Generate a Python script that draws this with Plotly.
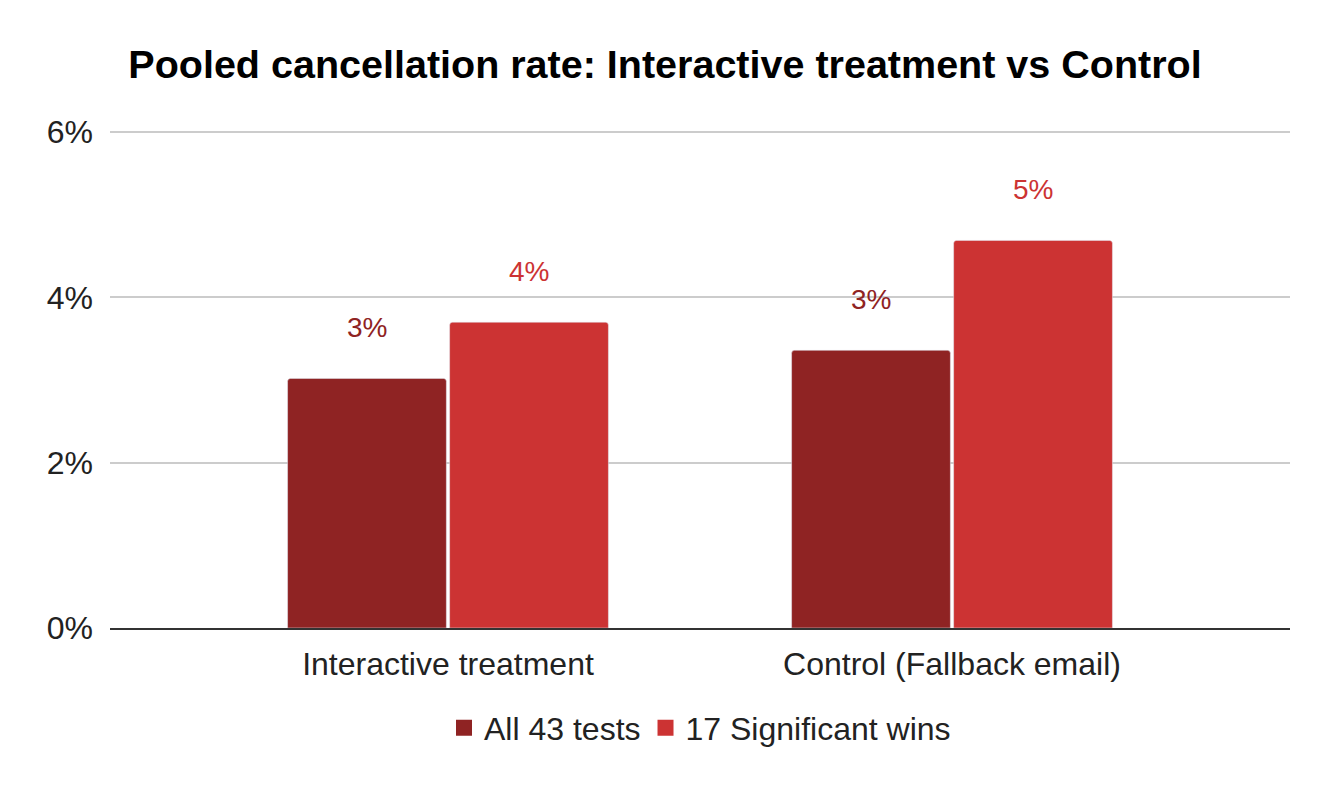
import plotly.graph_objects as go

# data
categories = ["Interactive treatment", "Control (Fallback email)"]
all_tests = [0.0302, 0.0336]
significant_wins = [0.0370, 0.0469]
series_names = ["All 43 tests", "17 Significant wins"]

dark_red = "#8F2323"
light_red = "#CC3333"
bar_gap = 0.357

fig = go.Figure()
fig.add_trace(go.Bar(x=categories, y=all_tests, name=series_names[0],
                     marker=dict(color=dark_red, cornerradius=3),
                     showlegend=False))
fig.add_trace(go.Bar(x=categories, y=significant_wins, name=series_names[1],
                     marker=dict(color=light_red, cornerradius=3),
                     showlegend=False))

# legend entries with bigger square swatches
for name, color in zip(series_names, [dark_red, light_red]):
    fig.add_trace(go.Scatter(x=[None], y=[None], mode="markers", name=name,
                             marker=dict(symbol="square", size=22, color=color)))

# value labels sit well above the bars
offset = (1 - bar_gap) / 4
annotations = []
for vals, color, shift in [(all_tests, dark_red, -offset), (significant_wins, light_red, offset)]:
    for i, v in enumerate(vals):
        annotations.append(dict(
            x=i + shift, y=v, xref="x", yref="y",
            text=f"{round(v * 100):.0f}%", showarrow=False,
            yanchor="bottom", yshift=33,
            font=dict(size=28, color=color),
        ))

fig.update_layout(
    width=1330, height=786,
    paper_bgcolor="white", plot_bgcolor="white",
    font=dict(family="Arial, Liberation Sans, sans-serif", color="#222222", size=32),
    title=dict(text="<b>Pooled cancellation rate: Interactive treatment vs Control</b>",
               x=0.494, xanchor="center", y=0.929, yanchor="middle",
               font=dict(size=39.5, color="#000000")),
    margin=dict(l=102, r=48, t=120, b=166),
    barmode="group", bargap=bar_gap, bargroupgap=0.02,
    showlegend=True,
    legend=dict(orientation="h", x=0.5, xanchor="center", y=-0.2, yanchor="middle",
                font=dict(size=32, color="#222222"), itemwidth=30,
                traceorder="normal"),
    annotations=annotations,
)
fig.update_xaxes(range=[-0.6706, 1.6706], showline=True, linecolor="#333333",
                 linewidth=1.5, ticks="", ticklabelstandoff=7,
                 tickfont=dict(size=32, color="#222222"))
fig.update_yaxes(range=[0, 0.0605], tickvals=[0, 0.02, 0.04, 0.06], tickformat=".0%",
                 showgrid=True, gridcolor="#CCCCCC", gridwidth=1.5,
                 zeroline=False, ticks="", ticklabelstandoff=16,
                 tickfont=dict(size=32, color="#222222"))

fig.write_html("out.html")
